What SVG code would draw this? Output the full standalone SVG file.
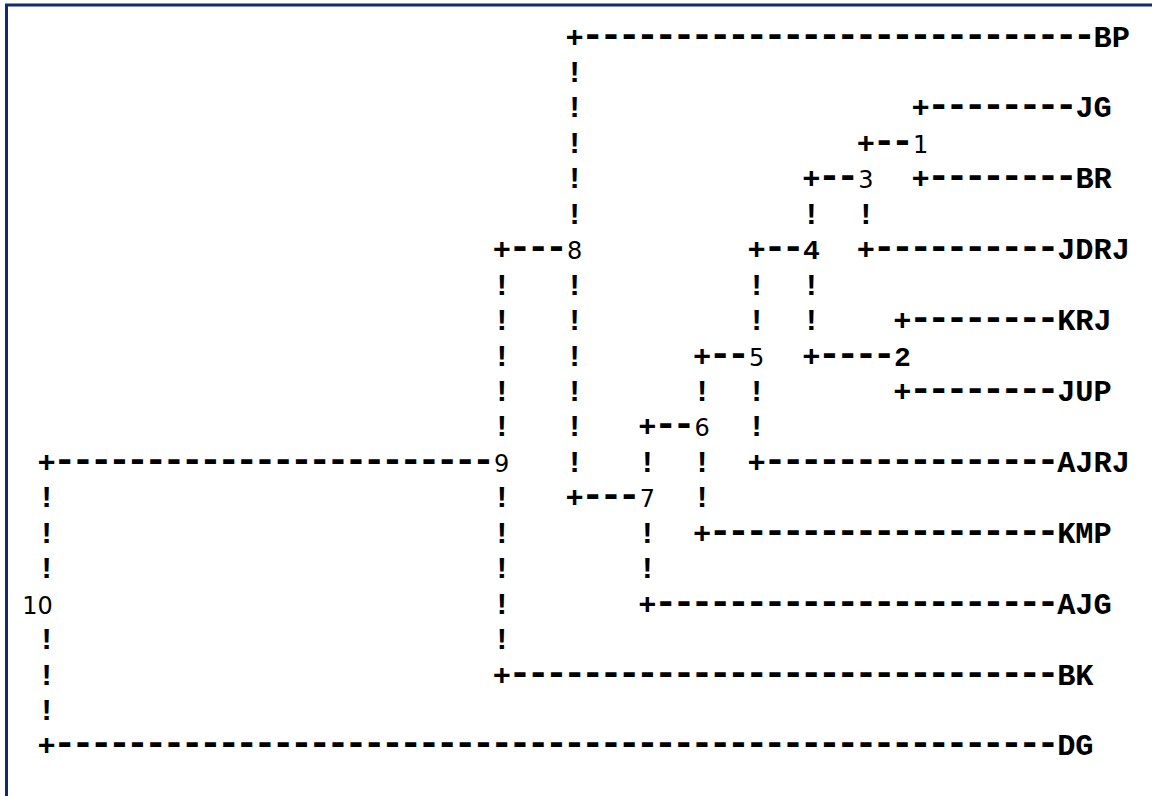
<svg xmlns="http://www.w3.org/2000/svg" width="1152" height="796" viewBox="0 0 1152 796">
<style>
.c{font-family:"Liberation Mono",monospace;font-size:30.34px;font-weight:bold;fill:#000}
.d{font-family:"Liberation Mono",monospace;font-size:39px;font-weight:bold;letter-spacing:-5.196px;fill:#000}
.l{font-family:"Liberation Mono",monospace;font-size:30.34px;font-weight:bold;fill:#000}
.n{font-family:"DejaVu Sans",sans-serif;font-size:24px;fill:#000;text-anchor:middle}
.nb{font-family:"Liberation Mono",monospace;font-size:28px;font-weight:bold;fill:#000;text-anchor:middle}
</style>
<rect width="1152" height="796" fill="#fff"/>
<g id="frame" stroke="#112c68" stroke-width="3" fill="none">
<line x1="5" y1="5" x2="1152" y2="5"/>
<line x1="6.5" y1="4" x2="6.5" y2="796"/>
</g>
<g id="connectors">
<g class="c">
<text x="565.5" y="46.6">+</text>
<text x="565.5" y="82.04">!</text>
<text x="565.5 911.49" y="117.48">!+</text>
<text x="565.5 856.86" y="152.92">!+</text>
<text x="565.5 802.23 911.49" y="188.36">!++</text>
<text x="565.5 802.23 856.86" y="223.8">!!!</text>
<text x="492.66 747.6 856.86" y="259.24">+++</text>
<text x="492.66 565.5 747.6 802.23" y="294.68">!!!!</text>
<text x="492.66 565.5 747.6 802.23 893.28" y="330.12">!!!!+</text>
<text x="492.66 565.5 692.97 802.23" y="365.56">!!++</text>
<text x="492.66 565.5 692.97 747.6 893.28" y="401">!!!!+</text>
<text x="492.66 565.5 638.34 747.6" y="436.44">!!+!</text>
<text x="37.41 565.5 638.34 692.97 747.6" y="471.88">+!!!+</text>
<text x="37.41 492.66 565.5 692.97" y="507.32">!!+!</text>
<text x="37.41 492.66 638.34 692.97" y="542.76">!!!+</text>
<text x="37.41 492.66 638.34" y="578.2">!!!</text>
<text x="492.66 638.34" y="613.64">!+</text>
<text x="37.41 492.66" y="649.08">!!</text>
<text x="37.41 492.66" y="684.52">!+</text>
<text x="37.41" y="719.96">!</text>
<text x="37.41" y="755.4">+</text>
</g>
<g class="d">
<text x="581.11" y="46.6">----------------------------</text>
<text x="927.1" y="117.48">--------</text>
<text x="872.47" y="152.92">--</text>
<text x="817.84" y="188.36">--</text>
<text x="927.1" y="188.36">--------</text>
<text x="508.27" y="259.24">---</text>
<text x="763.21" y="259.24">--</text>
<text x="872.47" y="259.24">----------</text>
<text x="908.89" y="330.12">--------</text>
<text x="708.58" y="365.56">--</text>
<text x="817.84" y="365.56">----</text>
<text x="908.89" y="401">--------</text>
<text x="653.95" y="436.44">--</text>
<text x="53.02" y="471.88">------------------------</text>
<text x="763.21" y="471.88">----------------</text>
<text x="581.11" y="507.32">---</text>
<text x="708.58" y="542.76">-------------------</text>
<text x="653.95" y="613.64">----------------------</text>
<text x="508.27" y="684.52">------------------------------</text>
<text x="53.02" y="755.4">-------------------------------------------------------</text>
</g>
</g>
<g id="leaf-BP"><text class="l" x="1093.59" y="46.6">BP</text></g>
<g id="leaf-JG"><text class="l" x="1075.38" y="117.48">JG</text></g>
<g id="leaf-BR"><text class="l" x="1075.38" y="188.36">BR</text></g>
<g id="leaf-JDRJ"><text class="l" x="1057.17" y="259.24">JDRJ</text></g>
<g id="leaf-KRJ"><text class="l" x="1057.17" y="330.12">KRJ</text></g>
<g id="leaf-JUP"><text class="l" x="1057.17" y="401">JUP</text></g>
<g id="leaf-AJRJ"><text class="l" x="1057.17" y="471.88">AJRJ</text></g>
<g id="leaf-KMP"><text class="l" x="1057.17" y="542.76">KMP</text></g>
<g id="leaf-AJG"><text class="l" x="1057.17" y="613.64">AJG</text></g>
<g id="leaf-BK"><text class="l" x="1057.17" y="684.52">BK</text></g>
<g id="leaf-DG"><text class="l" x="1057.17" y="755.4">DG</text></g>
<g id="cluster-1"><text class="n" x="920.59" y="152.92">1</text></g>
<g id="cluster-2"><text class="nb" x="902.38" y="365.56">2</text></g>
<g id="cluster-3"><text class="n" x="865.96" y="188.36">3</text></g>
<g id="cluster-4"><text class="nb" x="811.33" y="259.24">4</text></g>
<g id="cluster-5"><text class="n" x="756.7" y="365.56">5</text></g>
<g id="cluster-6"><text class="n" x="702.07" y="436.44">6</text></g>
<g id="cluster-7"><text class="n" x="647.44" y="507.32">7</text></g>
<g id="cluster-8"><text class="n" x="574.6" y="259.24">8</text></g>
<g id="cluster-9"><text class="n" x="501.76" y="471.88">9</text></g>
<g id="cluster-10"><text class="n" x="37.4" y="613.64">10</text></g>
</svg>
